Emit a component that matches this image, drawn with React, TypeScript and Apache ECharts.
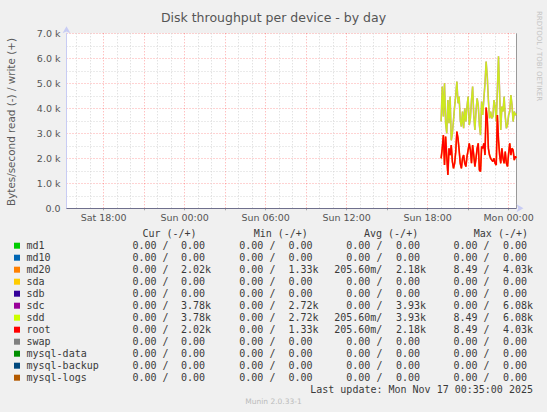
import React, {useEffect, useRef} from 'react';
import * as echarts from 'echarts';

// munin "diskstats_throughput" day graph, values in kB/s (write side only, reads are 0)
const DEVICES = ['md1', 'md10', 'md20', 'sda', 'sdb', 'sdc', 'sdd', 'root', 'swap', 'mysql-data', 'mysql-backup', 'mysql-logs'];
const DEVICE_COLORS = ['#00CC00', '#0066B3', '#FF8000', '#FFCC00', '#330099', '#990099', '#CCFF00', '#FF0000', '#808080', '#008F00', '#00487D', '#B35A00'];

// [read, write] per device
const CUR = [
    ['0.00', '0.00'], ['0.00', '0.00'], ['0.00', '2.02k'], ['0.00', '0.00'], ['0.00', '0.00'], ['0.00', '3.78k'],
    ['0.00', '3.78k'], ['0.00', '2.02k'], ['0.00', '0.00'], ['0.00', '0.00'], ['0.00', '0.00'], ['0.00', '0.00']
];
const MIN = [
    ['0.00', '0.00'], ['0.00', '0.00'], ['0.00', '1.33k'], ['0.00', '0.00'], ['0.00', '0.00'], ['0.00', '2.72k'],
    ['0.00', '2.72k'], ['0.00', '1.33k'], ['0.00', '0.00'], ['0.00', '0.00'], ['0.00', '0.00'], ['0.00', '0.00']
];
const AVG = [
    ['0.00', '0.00'], ['0.00', '0.00'], ['205.60m', '2.18k'], ['0.00', '0.00'], ['0.00', '0.00'], ['0.00', '3.93k'],
    ['205.60m', '3.93k'], ['205.60m', '2.18k'], ['0.00', '0.00'], ['0.00', '0.00'], ['0.00', '0.00'], ['0.00', '0.00']
];
const MAX = [
    ['0.00', '0.00'], ['0.00', '0.00'], ['8.49', '4.03k'], ['0.00', '0.00'], ['0.00', '0.00'], ['0.00', '6.08k'],
    ['8.49', '6.08k'], ['8.49', '4.03k'], ['0.00', '0.00'], ['0.00', '0.00'], ['0.00', '0.00'], ['0.00', '0.00']
];
const COLUMN_HEADERS = ['Cur (-/+)', 'Min (-/+)', 'Avg (-/+)', 'Max (-/+)'];

// sdc == sdd, md20 == root (5 min samples from Sun 19:00)
const SDD_WRITE = [
    3.47, 4.87, 3.67, 5.0, 3.4, 3.0, 4.33, 3.4, 4.47, 2.72,
    3.0, 3.53, 4.07, 4.53, 5.07, 4.2, 4.47, 3.53, 3.27, 3.87,
    3.2, 4.0, 3.47, 4.07, 4.47, 3.33, 3.6, 4.33, 4.87, 3.73,
    3.13, 3.87, 4.4, 4.13, 3.33, 2.93, 4.27, 3.73, 4.4, 5.0,
    5.87, 5.27, 4.33, 3.6, 3.87, 3.6, 3.67, 4.33, 4.07, 3.47,
    4.73, 6.08, 4.6, 3.13, 4.07, 3.87, 4.47, 3.67, 3.2, 3.33,
    3.73, 3.87, 4.53, 4.13, 3.47, 3.87, 3.73, 3.78
];
const ROOT_WRITE = [
    2.0, 2.4, 2.93, 1.73, 2.87, 2.07, 1.33, 2.4, 2.13, 2.53,
    1.87, 1.6, 1.8, 2.27, 3.07, 2.8, 2.33, 1.8, 1.6, 2.0,
    2.13, 1.8, 1.67, 2.07, 2.33, 2.6, 2.33, 1.8, 2.53, 2.13,
    1.67, 2.0, 2.4, 2.6, 1.53, 1.47, 2.47, 2.4, 2.6, 2.13,
    4.03, 3.6, 2.4, 2.13, 2.0, 1.93, 1.87, 2.0, 1.8, 1.73,
    3.73, 2.73, 2.13, 1.8, 2.4, 2.0, 1.8, 2.27, 1.8, 1.67,
    2.2, 2.6, 2.13, 2.4, 2.33, 1.93, 2.07, 2.02
];

const AXIS_START = Date.UTC(2025, 10, 15, 15, 15);
const AXIS_END = Date.UTC(2025, 10, 17, 0, 35);
const DATA_START = Date.UTC(2025, 10, 16, 19, 0);
const STEP = 5 * 60 * 1000;

const DAY_NAMES = ['Sun', 'Mon', 'Tue', 'Wed', 'Thu', 'Fri', 'Sat'];
const pad = (n: number) => String(n).padStart(2, '0');
const slotLabel = (t: number) => {
    const d = new Date(t);
    return `${DAY_NAMES[d.getUTCDay()]} ${pad(d.getUTCHours())}:${pad(d.getUTCMinutes())}`;
};

const slots: number[] = [];
for (let t = AXIS_START; t <= AXIS_END; t += STEP) slots.push(t);
const categories = slots.map(slotLabel);
const minuteOfDay = (i: number) => {
    const d = new Date(slots[i]);
    return d.getUTCHours() * 60 + d.getUTCMinutes();
};

const toSeries = (values: number[]) => values.map((v, i) => [slotLabel(DATA_START + i * STEP), v]);

const MONO = '"DejaVu Sans Mono", monospace';
const SANS = '"DejaVu Sans", sans-serif';
const CHAR_W = 6;
const READ_END = [168.6, 275.4, 382.4, 489.6];
const WRITE_END = [211, 318.6, 426, 533];
const HEADER_X = [142.4, 253.7, 364, 473.8];
const ROW_Y0 = 245.7;
const ROW_H = 12;

const buildLegend = () => {
    const els: any[] = [];
    const txt = (text: string, x: number, y: number, align = 'left', extra: any = {}) => ({
        type: 'text',
        x,
        y,
        silent: true,
        style: {text, fill: '#3a3a3a', fontFamily: MONO, fontSize: 10, textAlign: align, textVerticalAlign: 'middle', ...extra}
    });
    COLUMN_HEADERS.forEach((h, c) => els.push(txt(h, HEADER_X[c], 233.3)));
    const stats = [CUR, MIN, AVG, MAX];
    DEVICES.forEach((name, r) => {
        const y = ROW_Y0 + r * ROW_H;
        els.push({type: 'rect', shape: {x: 14, y: y - 3, width: 6, height: 6}, style: {fill: DEVICE_COLORS[r]}, silent: true});
        els.push(txt(name, 26.5, y));
        stats.forEach((stat, c) => {
            const [rd, wr] = stat[r];
            const rdUnit = /[a-z]$/i.test(rd);
            els.push(txt(rdUnit ? `${rd}/` : `${rd} /`, READ_END[c], y, 'right'));
            const wrUnit = /[a-z]$/i.test(wr);
            els.push(txt(wr, WRITE_END[c] - (wrUnit ? 0 : CHAR_W), y, 'right'));
        });
    });
    els.push(txt('Last update: Mon Nov 17 00:35:00 2025', 533, 389.3, 'right'));
    els.push(txt('Munin 2.0.33-1', 273.5, 401, 'center', {fontFamily: SANS, fontSize: 7.5, fill: '#bbbbbb'}));
    return els;
};

const App = () => {
    const ref = useRef<HTMLDivElement>(null);

    useEffect(() => {
        document.body.style.margin = '0';
        const chart = echarts.init(ref.current as HTMLDivElement, undefined, {renderer: 'svg'});
        const majorLine = {color: 'rgba(255,0,0,0.35)', type: [1, 2], width: 1};
        const minorLine = {color: '#d6d6d6', type: [1, 2], width: 1};
        const line = (name: string, data: number[], color: string, width: number, z: number, opacity = 1) => ({
            name,
            type: 'line',
            data: toSeries(data),
            showSymbol: false,
            symbol: 'none',
            z,
            lineStyle: {color, width, opacity},
            itemStyle: {color}
        });
        chart.setOption({
            animation: false,
            backgroundColor: '#F0F0F0',
            title: {
                text: 'Disk throughput per device - by day',
                left: 'center',
                top: 6,
                textStyle: {fontFamily: SANS, fontSize: 12.5, fontWeight: 'normal', color: '#555'}
            },
            grid: {left: 66.5, top: 33.3, width: 450, height: 175, show: true, backgroundColor: '#ffffff', borderWidth: 0},
            xAxis: [
                {
                    type: 'category',
                    data: categories,
                    boundaryGap: false,
                    position: 'bottom',
                    axisLine: {show: true, lineStyle: {color: '#c8ccf4'}, symbol: ['none', 'arrow'], symbolSize: [6, 7], symbolOffset: [0, 7]},
                    axisTick: {show: true, interval: (i: number) => minuteOfDay(i) % 180 === 0, length: 2, lineStyle: {color: '#aaa'}},
                    axisLabel: {
                        interval: (i: number) => minuteOfDay(i) % 360 === 0,
                        margin: 4,
                        color: '#555',
                        fontFamily: SANS,
                        fontSize: 9.5
                    },
                    splitLine: {show: true, interval: (i: number) => minuteOfDay(i) % 180 === 0, lineStyle: majorLine}
                },
                {
                    type: 'category',
                    data: categories,
                    boundaryGap: false,
                    position: 'top',
                    axisLine: {show: false},
                    axisTick: {show: false},
                    axisLabel: {show: false},
                    splitLine: {
                        show: true,
                        interval: (i: number) => minuteOfDay(i) % 60 === 0 && minuteOfDay(i) % 180 !== 0,
                        lineStyle: minorLine
                    }
                }
            ],
            yAxis: {
                type: 'value',
                min: 0,
                max: 7,
                interval: 1,
                axisLine: {show: true, lineStyle: {color: '#c8ccf4'}, symbol: ['none', 'arrow'], symbolSize: [6, 7], symbolOffset: [0, 7]},
                axisTick: {show: false},
                axisLabel: {
                    formatter: (v: number) => (v === 0 ? '0.0' : `${v.toFixed(1)} k`),
                    color: '#555',
                    fontFamily: SANS,
                    fontSize: 9.5,
                    margin: 6
                },
                splitLine: {show: true, lineStyle: majorLine},
                minorTick: {show: false, splitNumber: 2},
                minorSplitLine: {show: true, lineStyle: minorLine}
            },
            series: [
                line('sdc', SDD_WRITE, '#990099', 1.6, 3, 0.55),
                line('sdd', SDD_WRITE, '#CCFF00', 1.4, 4, 0.85),
                line('md20', ROOT_WRITE, '#FF8000', 1.7, 5),
                {
                    ...line('root', ROOT_WRITE, '#FF0000', 1.4, 6),
                    markLine: {
                        silent: true,
                        symbol: 'none',
                        label: {show: false},
                        lineStyle: {color: '#6f6f8c', type: 'solid', width: 1},
                        data: [{yAxis: 0}]
                    }
                }
            ],
            graphic: [
                {
                    type: 'line',
                    silent: true,
                    shape: {x1: 516.5, y1: 33.3, x2: 516.5, y2: 208.3},
                    style: {stroke: '#999', lineWidth: 1}
                },
                {
                    type: 'text',
                    x: 10.5,
                    y: 122,
                    rotation: Math.PI / 2,
                    silent: true,
                    style: {
                        text: 'Bytes/second read (-) / write (+)',
                        fill: '#5a5a5a',
                        fontFamily: SANS,
                        fontSize: 10.4,
                        textAlign: 'center',
                        textVerticalAlign: 'middle'
                    }
                },
                {
                    type: 'text',
                    x: 538.5,
                    y: 56,
                    rotation: -Math.PI / 2,
                    silent: true,
                    style: {
                        text: 'RRDTOOL / TOBI OETIKER',
                        fill: '#c4c4c4',
                        fontFamily: SANS,
                        fontSize: 7,
                        textAlign: 'center',
                        textVerticalAlign: 'middle'
                    }
                },
                ...buildLegend()
            ]
        });
        return () => chart.dispose();
    }, []);

    return <div ref={ref} style={{width: 547, height: 412}} />;
};

export default App;
